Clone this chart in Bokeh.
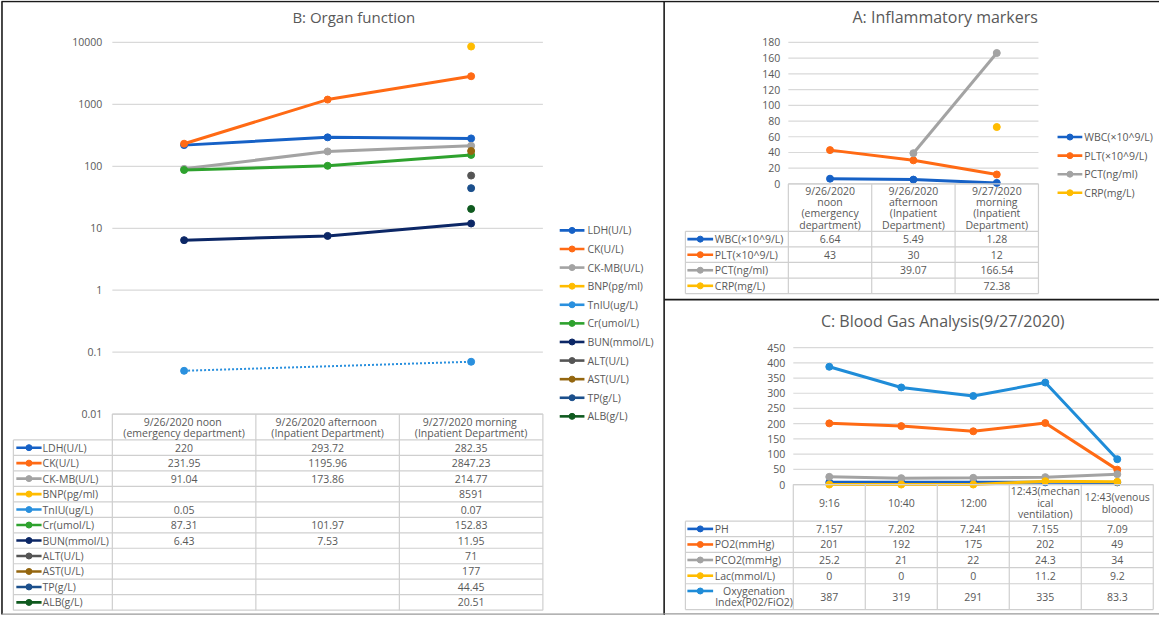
import math
from bokeh.plotting import figure
from bokeh.models import Range1d, LogScale
from bokeh.core.properties import value
from bokeh.embed import file_html
from bokeh.resources import INLINE

NAN = float("nan")

# ---------------- Panel B: organ function ----------------
b_title = "B: Organ function"
b_header = [["9/26/2020  noon", "(emergency department)"],
            ["9/26/2020  afternoon", "(Inpatient Department)"],
            ["9/27/2020  morning", "(Inpatient Department)"]]
b_ticks = [0.01, 0.1, 1, 10, 100, 1000, 10000]
b_tick_labels = ["0.01", "0.1", "1", "10", "100", "1000", "10000"]
b_names = ["LDH(U/L)", "CK(U/L)", "CK-MB(U/L)", "BNP(pg/ml)", "TnIU(ug/L)", "Cr(umol/L)",
           "BUN(mmol/L)", "ALT(U/L)", "AST(U/L)", "TP(g/L)", "ALB(g/L)"]
b_colors = ["#1661C6", "#FF6A14", "#A3A3A3", "#FFBC00", "#2A90DE", "#2EA22E",
            "#0C2766", "#555555", "#94660F", "#1B4F8C", "#0F5A1F"]
b_ldh = [220, 293.72, 282.35]
b_ck = [231.95, 1195.96, 2847.23]
b_ckmb = [91.04, 173.86, 214.77]
b_bnp = [None, None, 8591]
b_tniu = [0.05, None, 0.07]
b_cr = [87.31, 101.97, 152.83]
b_bun = [6.43, 7.53, 11.95]
b_alt = [None, None, 71]
b_ast = [None, None, 177]
b_tp = [None, None, 44.45]
b_alb = [None, None, 20.51]
b_values = [b_ldh, b_ck, b_ckmb, b_bnp, b_tniu, b_cr, b_bun, b_alt, b_ast, b_tp, b_alb]
b_dotted = ["TnIU(ug/L)"]

# ---------------- Panel A: inflammatory markers ----------------
a_title = "A: Inflammatory markers"
a_header = [["9/26/2020", "noon", "(emergency", "department)"],
            ["9/26/2020", "afternoon", "(Inpatient", "Department)"],
            ["9/27/2020", "morning", "(Inpatient", "Department)"]]
a_ticks = [0, 20, 40, 60, 80, 100, 120, 140, 160, 180]
a_tick_labels = ["0", "20", "40", "60", "80", "100", "120", "140", "160", "180"]
a_names = ["WBC(×10^9/L)", "PLT(×10^9/L)", "PCT(ng/ml)", "CRP(mg/L)"]
a_colors = ["#1661C6", "#FF6A14", "#A3A3A3", "#FFBC00"]
a_wbc = [6.64, 5.49, 1.28]
a_plt = [43, 30, 12]
a_pct = [None, 39.07, 166.54]
a_crp = [None, None, 72.38]
a_values = [a_wbc, a_plt, a_pct, a_crp]

# ---------------- Panel C: blood gas analysis ----------------
c_title = "C: Blood Gas Analysis(9/27/2020)"
c_header = [["9:16"], ["10:40"], ["12:00"],
            ["12:43(mechan", "ical", "ventilation)"], ["12:43(venous", "blood)"]]
c_ticks = [0, 50, 100, 150, 200, 250, 300, 350, 400, 450]
c_tick_labels = ["0", "50", "100", "150", "200", "250", "300", "350", "400", "450"]
c_names = ["PH", "PO2(mmHg)", "PCO2(mmHg)", "Lac(mmol/L)", "Oxygenation\nIndex(P02/FiO2)"]
c_colors = ["#1661C6", "#FF6A14", "#A3A3A3", "#FFBC00", "#1F8CD8"]
c_ph = [7.157, 7.202, 7.241, 7.155, 7.09]
c_po2 = [201, 192, 175, 202, 49]
c_pco2 = [25.2, 21, 22, 24.3, 34]
c_lac = [0, 0, 0, 11.2, 9.2]
c_oi = [387, 319, 291, 335, 83.3]
c_values = [c_ph, c_po2, c_pco2, c_lac, c_oi]

# ---------------- layout (reference pixel space) ----------------
FONT = "Open Sans"
TXT = "#595959"
GRID = "#D9D9D9"
TAB = "#CFCFCF"
RX0, RX1, RY0, RY1 = 4, 1175, 5, 631

p = figure(width=1159, height=615, x_range=Range1d(RX0, RX1), y_range=Range1d(RY1, RY0),
           x_axis_location=None, y_axis_location=None, toolbar_location=None,
           output_backend="svg", min_border=0)
p.title.visible = False
p.outline_line_color = None
p.background_fill_color = "white"
p.border_fill_color = "white"
p.grid.visible = False


def lin_map(p0, v0, p1, v1, q):
    return v0 + (q - p0) * (v1 - v0) / (p1 - p0)


def x_extra(p0, p1, n):
    return Range1d(lin_map(p0, 0, p1, n, RX0), lin_map(p0, 0, p1, n, RX1))


def y_extra(p_top, v_top, p_bot, v_bot, log=False):
    if log:
        lt, lb = math.log10(v_top), math.log10(v_bot)
        return Range1d(10 ** lin_map(p_top, lt, p_bot, lb, RY1), 10 ** lin_map(p_top, lt, p_bot, lb, RY0))
    return Range1d(lin_map(p_top, v_top, p_bot, v_bot, RY1), lin_map(p_top, v_top, p_bot, v_bot, RY0))


# plot regions (reference px)
B_X0, B_X1, B_YT, B_YB = 117, 552, 47.7, 426.0
A_X0, A_X1, A_YT, A_YB = 800, 1052.7, 47.7, 191.7
C_X0, C_X1, C_YT, C_YB = 805, 1168.7, 358.3, 497.7

p.extra_x_ranges = {"bx": x_extra(B_X0, B_X1, len(b_header)),
                    "ax": x_extra(A_X0, A_X1, len(a_header)),
                    "cx": x_extra(C_X0, C_X1, len(c_header))}
p.extra_y_ranges = {"by": y_extra(B_YT, b_ticks[-1], B_YB, b_ticks[0], log=True),
                    "ay": y_extra(A_YT, a_ticks[-1], A_YB, a_ticks[0]),
                    "cy": y_extra(C_YT, c_ticks[-1], C_YB, c_ticks[0])}
p.extra_y_scales = {"by": LogScale()}


def txt(x, y, s, size="10.5px", align="center", color=TXT, **kw):
    p.text(x=x, y=y, text=s, text_font=value(FONT), text_font_size=size,
           text_align=align, text_baseline="middle", text_color=color, **kw)


def chart(xr, yr, ticks, labels, n, names, colors, values, dotted=(), lw=3, label_off=-9):
    p.segment(x0=[0] * len(ticks), x1=[n] * len(ticks), y0=ticks, y1=ticks,
              line_color=GRID, line_width=1.2, x_range_name=xr, y_range_name=yr)
    txt([0] * len(ticks), ticks, labels, align="right", x_offset=label_off,
        x_range_name=xr, y_range_name=yr)
    for name, col, vals in zip(names, colors, values):
        xs = [i + 0.5 for i in range(n)]
        ys = [NAN if v is None else v for v in vals]
        if name in dotted:
            px = [x for x, v in zip(xs, vals) if v is not None]
            py = [v for v in vals if v is not None]
            p.line(px, py, line_color=col, line_width=2, line_dash="2 2",
                   x_range_name=xr, y_range_name=yr)
        else:
            p.line(xs, ys, line_color=col, line_width=lw, x_range_name=xr, y_range_name=yr)
        p.scatter(xs, ys, size=7, marker="circle", fill_color=col, line_color=col,
                  x_range_name=xr, y_range_name=yr)


def key(x0, x1, y, col):
    p.segment(x0=[x0], x1=[x1], y0=[y], y1=[y], line_color=col, line_width=2.6)
    p.scatter([(x0 + x1) / 2], [y], size=6, marker="circle", fill_color=col, line_color=col)


def legend(x0, x1, tx, y0, dy, names, colors):
    for i, (nm, col) in enumerate(zip(names, colors)):
        y = y0 + i * dy
        key(x0, x1, y, col)
        txt([tx], [y], [nm], align="left")


def table(left, edges, htop, hbot, rows, headers, hgap, names, colors, values, kx0, kx1, tx):
    n = len(edges) - 1
    # grid lines
    p.segment(x0=[edges[0]], x1=[edges[-1]], y0=[htop], y1=[htop], line_color=TAB, line_width=1.2)
    p.segment(x0=[left] * len(rows), x1=[edges[-1]] * len(rows), y0=rows, y1=rows,
              line_color=TAB, line_width=1.2)
    p.segment(x0=edges, x1=edges, y0=[htop] * len(edges), y1=[rows[-1]] * len(edges),
              line_color=TAB, line_width=1.2)
    p.segment(x0=[left], x1=[left], y0=[rows[0]], y1=[rows[-1]], line_color=TAB, line_width=1.2)
    # header
    mid = (htop + hbot) / 2
    for j, lines in enumerate(headers):
        cx = (edges[j] + edges[j + 1]) / 2
        m = len(lines)
        ys = [mid + (k - (m - 1) / 2) * hgap for k in range(m)]
        txt([cx] * m, ys, lines)
    # body
    for i, (nm, col, vals) in enumerate(zip(names, colors, values)):
        ym = (rows[i] + rows[i + 1]) / 2
        lines = nm.split("\n")
        m = len(lines)
        ys = [ym + (k - (m - 1) / 2) * hgap for k in range(m)]
        key(kx0, kx1, ys[0], col)
        if m == 1:
            txt([tx], [ym], [nm], align="left")
        else:
            txt([(tx + edges[0]) / 2] * m, ys, lines)
        for j, v in enumerate(vals):
            if v is not None:
                txt([(edges[j] + edges[j + 1]) / 2], [ym], [f"{v:g}"])


# ---- panel B ----
txt([361], [21.7], [b_title], size="15px")
chart("bx", "by", b_ticks, b_tick_labels, 3, b_names, b_colors, b_values, dotted=b_dotted, lw=3, label_off=-10)
b_edges = [B_X0 + i * (B_X1 - B_X0) / 3 for i in range(4)]
b_rows = [452.3 + i * 15.75 for i in range(len(b_names) + 1)]
table(17, b_edges, 426.0, 452.3, b_rows, b_header, 11.2, b_names, b_colors, b_values, 20, 45.5, 46.5)
legend(569, 594, 597, 239, 18.93, b_names, b_colors)

# ---- panel A ----
txt([958.5], [21.7], [a_title], size="16px")
chart("ax", "ay", a_ticks, a_tick_labels, 3, a_names, a_colors, a_values, lw=3, label_off=-8)
a_edges = [A_X0 + i * (A_X1 - A_X0) / 3 for i in range(4)]
a_rows = [240.0 + i * 15.83 for i in range(len(a_names) + 1)]
table(696, a_edges, 191.7, 240.0, a_rows, a_header, 11.5, a_names, a_colors, a_values, 698, 724, 725.7)
legend(1072, 1097, 1099, 144, 18.9, a_names, a_colors)

# ---- panel C ----
txt([956], [331.7], [c_title], size="16px")
chart("cx", "cy", c_ticks, c_tick_labels, 5, c_names, c_colors, c_values, lw=3, label_off=-8)
c_edges = [C_X0 + i * (C_X1 - C_X0) / 5 for i in range(6)]
c_rows = [535.0, 550.7, 566.7, 582.3, 598.7, 625.0]
table(696, c_edges, 497.7, 535.0, c_rows, c_header, 11.6, c_names, c_colors, c_values, 698, 724, 725.7)

# ---- panel borders ----
p.segment(x0=[5, 5.5, 674.5, 674.5], x1=[1175, 5.5, 674.5, 1175],
          y0=[6, 6, 6, 309.5], y1=[6, 630, 631, 309.5], line_color="#1a1a1a", line_width=1.6)
p.segment(x0=[5.5, 674.5], x1=[674.5, 1175], y0=[629.5, 629.3], y1=[629.5, 629.3],
          line_color="#9a9a9a", line_width=1.2)

open("out.html", "w").write(file_html(p, INLINE))
